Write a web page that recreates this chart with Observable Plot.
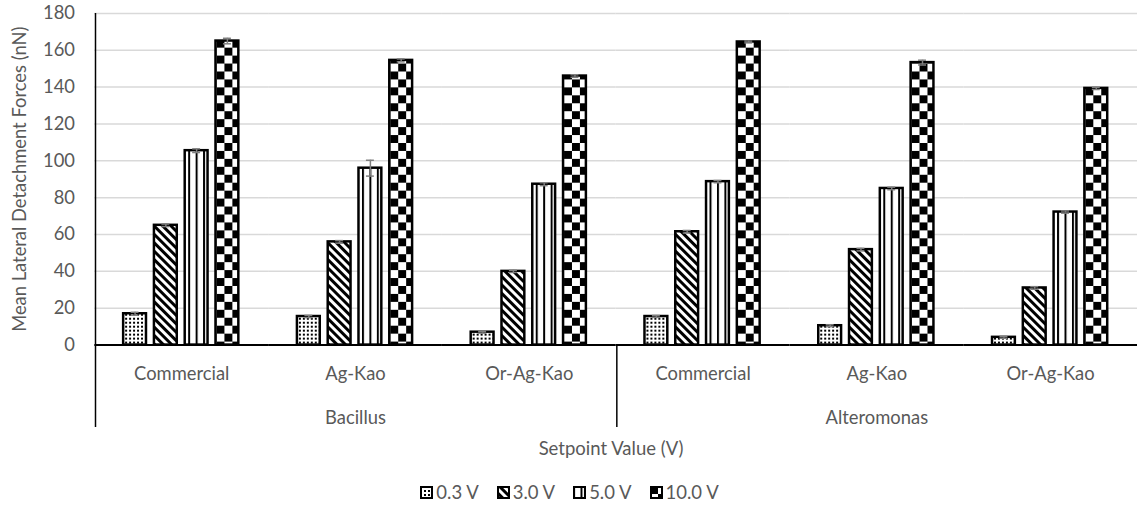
<!DOCTYPE html>
<html><head><meta charset="utf-8">
<script src="https://cdn.jsdelivr.net/npm/d3@7"></script>
<script src="https://cdn.jsdelivr.net/npm/@observablehq/plot@0.6"></script>
<style>
html,body{margin:0;padding:0;overflow:hidden;background:#fff;}
#wrap{position:relative;width:1139px;height:526px;overflow:hidden;font-family:Lato,sans-serif;color:#595959;background:#fff;}
#chart{position:absolute;left:0;top:0;}
#xtitle{position:absolute;left:411px;width:400px;top:437px;line-height:22px;text-align:center;font-size:18.5px;}
#legend{position:absolute;left:0;width:1139px;top:481px;line-height:22px;display:flex;justify-content:center;font-size:18.5px;}
#legend .item{display:flex;align-items:center;margin:0 9px;}
#legend svg{margin-right:3px;}
</style></head>
<body>
<svg width="0" height="0" style="position:absolute">
<defs>
<pattern id="p0" patternUnits="userSpaceOnUse" width="4" height="4"><rect width="4" height="4" fill="white"/><rect width="2" height="2" fill="black"/></pattern>
<pattern id="p1" patternUnits="userSpaceOnUse" width="6" height="6" patternTransform="rotate(-45)"><rect width="6" height="6" fill="white"/><rect width="3" height="6" fill="black"/></pattern>
<pattern id="p2" patternUnits="userSpaceOnUse" width="7.5" height="10"><rect width="7.5" height="10" fill="white"/><rect width="2" height="10" fill="black"/></pattern>
<pattern id="p3" patternUnits="userSpaceOnUse" width="16" height="16"><rect width="16" height="16" fill="white"/><rect width="8" height="8" fill="black"/><rect x="8" y="8" width="8" height="8" fill="black"/></pattern>
</defs></svg>
<div id="wrap">
<div id="chart"></div>
<div id="xtitle"></div>
<div id="legend"></div>
</div>
<script>
// ---- data ----
const groups = ["Bacillus","Bacillus","Bacillus","Alteromonas","Alteromonas","Alteromonas"];
const surfaces = ["Commercial","Ag-Kao","Or-Ag-Kao","Commercial","Ag-Kao","Or-Ag-Kao"];
const setpoints = ["0.3 V","3.0 V","5.0 V","10.0 V"];
const v03  = [17,   15.5, 7,    15.5, 10.5, 4.2];
const v30  = [65,   56,   40,   61.5, 51.8, 31];
const v50  = [105.5,96,   87.3, 88.7, 85,   72.2];
const v100 = [165,  154.5,146,  164.5,153.3,139.3];
const e03  = [0.8, 0.6, 0.5, 0.5, 0.5, 0.5];
const e30  = [0.7, 0.7, 0.6, 0.7, 0.7, 0.7];
const e50  = [1.0, 4.3, 0.8, 0.6, 0.7, 0.6];
const e100 = [1.5, 0.8, 0.7, 0.5, 1.3, 0.6];
const yTicks = [0,20,40,60,80,100,120,140,160,180];
const yTitle = "Mean Lateral Detachment Forces (nN)";
const xTitle = "Setpoint Value (V)";
const patterns = ["url(#p0)","url(#p1)","url(#p2)","url(#p3)"];

const keys = surfaces.map((s,i)=>groups[i]+"|"+s);
const vals = [v03,v30,v50,v100], errs = [e03,e30,e50,e100];
const rows = [];
keys.forEach((k,i)=>setpoints.forEach((s,j)=>rows.push({key:k, setpoint:s, value:vals[j][i], err:errs[j][i]})));
const groupNames = [...new Set(groups)];
const groupLabels = groupNames.map(g=>{
  const idx = groups.map((x,i)=>x===g?i:-1).filter(i=>i>=0);
  return {key: keys[idx[Math.floor(idx.length/2)]], label:g};
});
const separators = groupNames.map(g=>({key: keys[groups.indexOf(g)]}));

// ---- layout ----
const W=1147, ML=93, MR=0, MT=13, H=438, MB=H-347;
const pi=0.25, po=0.87;
const facetW=(W-ML-MR)/keys.length;
const step=facetW/(setpoints.length - pi + 2*po);
const bw=step*(1-pi);
const sepDx=-(po*step + bw/2);
const capInset=(bw-9)/2;

const plot = Plot.plot({
  width:W, height:H, marginLeft:ML, marginRight:MR, marginTop:MT, marginBottom:MB,
  style:{fontFamily:"Lato, sans-serif", fontSize:"18.5px", color:"#595959", background:"white", overflow:"visible"},
  fx:{domain:keys, padding:0},
  x:{domain:setpoints, paddingInner:pi, paddingOuter:po, axis:null},
  y:{domain:[0,180], axis:null},
  color:{type:"ordinal", domain:setpoints, range:patterns},
  marks:[
    Plot.gridY(yTicks.filter(t=>t>0), {stroke:"#d9d9d9", strokeOpacity:1, strokeWidth:1.5}),
    Plot.barY(rows, {fx:"key", x:"setpoint", y:"value", fill:"setpoint", stroke:"black", strokeWidth:2.5}),
    Plot.ruleX(rows, {fx:"key", x:"setpoint", y1:d=>d.value-d.err, y2:d=>d.value+d.err, stroke:"#7f7f7f", strokeWidth:1.5}),
    Plot.tickY(rows, {fx:"key", x:"setpoint", y:d=>d.value+d.err, stroke:"#7f7f7f", strokeWidth:1.5, insetLeft:capInset, insetRight:capInset}),
    Plot.tickY(rows, {fx:"key", x:"setpoint", y:d=>d.value-d.err, stroke:"#7f7f7f", strokeWidth:1.5, insetLeft:capInset, insetRight:capInset}),
    Plot.ruleY([0], {stroke:"black", strokeWidth:2}),
    Plot.ruleX(separators.slice(0,1), {fx:"key", x:()=>setpoints[0], dx:sepDx, insetBottom:-83, stroke:"black", strokeWidth:1.5}),
    Plot.ruleX(separators.slice(1), {fx:"key", x:()=>setpoints[0], dx:sepDx, y1:0, y2:0, insetBottom:-83, stroke:"black", strokeWidth:1.5}),
    Plot.axisY(yTicks, {tickSize:0, tickPadding:20, label:null}),
    Plot.axisFx({anchor:"bottom", tickSize:0, tickPadding:22, label:null, tickFormat:k=>k.split("|")[1]}),
    Plot.text(groupLabels, {fx:"key", text:"label", frameAnchor:"bottom", lineAnchor:"middle", dy:74}),
    Plot.text([{key:keys[0], t:yTitle}], {fx:"key", text:"t", frameAnchor:"left", textAnchor:"middle", lineAnchor:"middle", rotate:-90, dx:-75})
  ]
});
document.getElementById("chart").appendChild(plot);
document.getElementById("xtitle").textContent = xTitle;
const lg = document.getElementById("legend");
setpoints.forEach((s,j)=>{
  const it = document.createElement("div"); it.className="item";
  it.innerHTML = `<svg width="13" height="13"><rect x="1" y="1" width="11" height="11" fill="${patterns[j]}" stroke="black" stroke-width="2"/></svg><span>${s}</span>`;
  lg.appendChild(it);
});
</script>
</body></html>
